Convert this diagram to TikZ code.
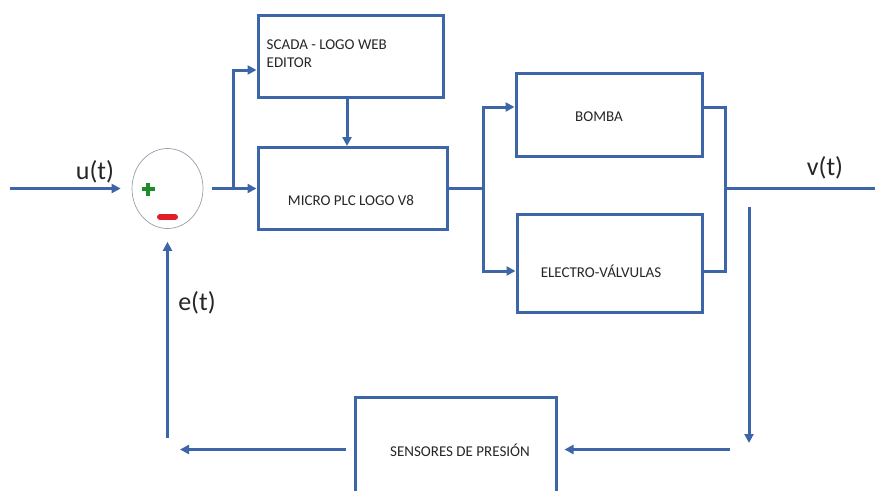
\documentclass[tikz,border=0pt]{standalone}
\usepackage{fontspec}
\setmainfont{Carlito}
\usetikzlibrary{arrows.meta,calc,shapes.geometric}
\definecolor{lineblue}{RGB}{60,102,168}
\definecolor{ringgray}{RGB}{150,158,172}
\definecolor{plusgreen}{RGB}{30,140,40}
\definecolor{minusred}{RGB}{225,30,40}
\begin{document}
\begin{tikzpicture}[x=1pt,y=-1pt,
  blockbox/.style={draw=lineblue,line width=3pt,inner sep=0pt},
  boxtext/.style={inner sep=0pt,font=\fontsize{15}{18}\selectfont,text=black!85},
  siglabel/.style={inner sep=0pt,font=\fontsize{26}{30}\selectfont,text=black!85},
  conn/.style={draw=lineblue,line width=3pt},
  arr/.style={conn,-{Triangle[length=9pt,width=9pt]}}]
\useasboundingbox (0,0) rectangle (875,490);

% blocks
\node[blockbox,minimum width=185pt,minimum height=82pt] (scada) at (350.5,56) {};
\node[boxtext,anchor=west,align=left] (scadatxt) at (266.5,54) {SCADA - LOGO WEB\\EDITOR};
\node[blockbox,minimum width=189pt,minimum height=82pt] (micro) at (352.5,188.5) {};
\node[boxtext] (microtxt) at (351,200) {MICRO PLC LOGO V8};
\node[blockbox,minimum width=186pt,minimum height=83pt] (bomba) at (609,114.5) {};
\node[boxtext] (bombatxt) at (599,117) {BOMBA};
\node[blockbox,minimum width=185pt,minimum height=98pt] (electro) at (609.5,263) {};
\node[boxtext] (electrotxt) at (601,271) {ELECTRO-VÁLVULAS};
\node[blockbox,minimum width=201pt,minimum height=105pt] (sens) at (455.5,449.5) {};
\node[boxtext] (senstxt) at (460,450) {SENSORES DE PRESIÓN};

% summing junction
\node[ellipse,draw=ringgray,line width=0.7pt,minimum width=71pt,minimum height=80pt,inner sep=0pt] (sum) at (167.5,188.5) {};
\draw[plusgreen,line width=3.6pt] (141.5,189) -- (154.5,189) (148,182.5) -- (148,195.5);
\draw[minusred,line width=6pt,line cap=round] (160,217) -- (175,217);

% signal labels
\node[siglabel] (ut) at (95,172) {u(t)};
\node[siglabel] (vt) at (825,168) {v(t)};
\node[siglabel] (et) at (197,303) {e(t)};

% coordinates
\coordinate (inL) at (10,188.5);
\coordinate (br1) at (233,188.5);
\coordinate (br2) at (483,188.5);
\coordinate (br3) at (725,188.5);
\coordinate (outR) at (875,188.5);
\coordinate (fbTop) at (749,207);
\coordinate (fbBot) at (749,443);
\coordinate (fbR) at (730,449.5);
\coordinate (fbL) at (180,449.5);
\coordinate (fbUp) at (167.5,438);

% connectors
\draw[arr,shorten >=11pt] (inL) -- (sum.west);
\draw[arr,shorten <=9pt] (sum.east) -- (micro.west);
\draw[arr] (br1) |- ($(scada.west)+(0,14)$);
\draw[arr] ($(scada.south)+(-3.5,0)$) -- ($(micro.north)+(-5.5,0)$);
\draw[conn] (micro.east) -- (br2);
\draw[arr] (br2) |- ($(bomba.west)+(0,-7.5)$);
\draw[arr] (br2) |- ($(electro.west)+(0,8)$);
\draw[conn] ($(bomba.east)+(0,-7.5)$) -| (br3) |- ($(electro.east)+(0,8)$);
\draw[conn] (br3) -- (outR);
\draw[arr] (fbTop) -- (fbBot);
\draw[arr,shorten >=7pt] (fbR) -- (sens.east);
\draw[arr,shorten <=8pt] (sens.west) -- (fbL);
\draw[arr,shorten >=13pt] (fbUp) -- (sum.south);
\end{tikzpicture}
\end{document}
